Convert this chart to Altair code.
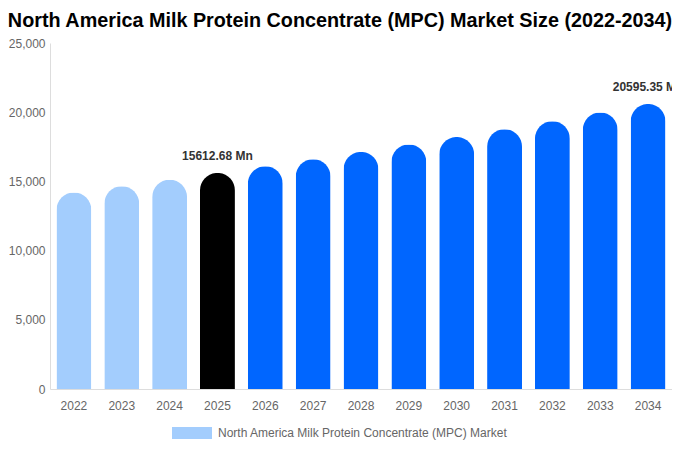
import altair as alt
import pandas as pd

years = ["2022", "2023", "2024", "2025", "2026", "2027", "2028", "2029", "2030", "2031", "2032", "2033", "2034"]
values = [14200, 14650, 15120, 15612.68, 16090, 16600, 17130, 17660, 18210, 18770, 19350, 19970, 20595.35]
label_years = ["2025", "2034"]
series_name = "North America Milk Protein Concentrate (MPC) Market"

df = pd.DataFrame({"year": years, "value": values})
df["series"] = series_name
df["label"] = [f"{v:.2f} Mn" if y in label_years else "" for y, v in zip(years, values)]

FONT = "Liberation Sans"

x_enc = alt.X("year:N", title=None, sort=years,
              scale=alt.Scale(paddingInner=0.27, paddingOuter=0.135),
              axis=alt.Axis(labelAngle=0, labelColor="#666666", labelFontSize=12, labelFont=FONT,
                            ticks=False, domainColor="#dddddd", labelPadding=11))
y_enc = alt.Y("value:Q", title=None,
              scale=alt.Scale(domain=[0, 25000], nice=False),
              axis=alt.Axis(values=[0, 5000, 10000, 15000, 20000, 25000], format=",d",
                            grid=False, ticks=False, domainColor="#dddddd",
                            labelColor="#666666", labelFontSize=12, labelFont=FONT, labelPadding=5))

bars = alt.Chart(df).mark_bar(cornerRadiusTopLeft=17.5, cornerRadiusTopRight=17.5).encode(
    x=x_enc,
    y=y_enc,
    color=alt.Color("series:N",
                    scale=alt.Scale(domain=[series_name], range=["#a3cdfd"]),
                    condition=[
                        {"test": "datum.year == '2025'", "value": "#000000"},
                        {"test": "toNumber(datum.year) > 2025", "value": "#0066ff"},
                    ],
                    legend=alt.Legend(title=None, orient="none", legendX=122, legendY=370,
                                      direction="horizontal",
                                      symbolType="M-1,-0.3H1V0.3H-1Z", symbolSize=1600,
                                      symbolStrokeWidth=0, labelFontSize=12, labelColor="#666666",
                                      labelFont=FONT, labelLimit=0, labelOffset=6)),
)

labels = alt.Chart(df).transform_filter("datum.label != ''").mark_text(
    fontWeight="bold", fontSize=12, font=FONT, color="#333333", baseline="bottom", dy=-10
).encode(x=alt.X("year:N", sort=years), y="value:Q", text="label:N")

chart = alt.layer(bars, labels).properties(
    width=622, height=346,
    autosize=alt.AutoSizeParams(type="none"),
    padding={"left": 42, "top": 35, "right": 0, "bottom": 51},
    title=alt.Title("North America Milk Protein Concentrate (MPC) Market Size (2022-2034)",
                    fontSize=19.8, font=FONT, fontWeight="bold", color="#000000",
                    anchor="middle", dx=-21, offset=6),
).configure_view(stroke=None)

chart.save("out.html", embed_options={"renderer": "svg", "actions": False})
